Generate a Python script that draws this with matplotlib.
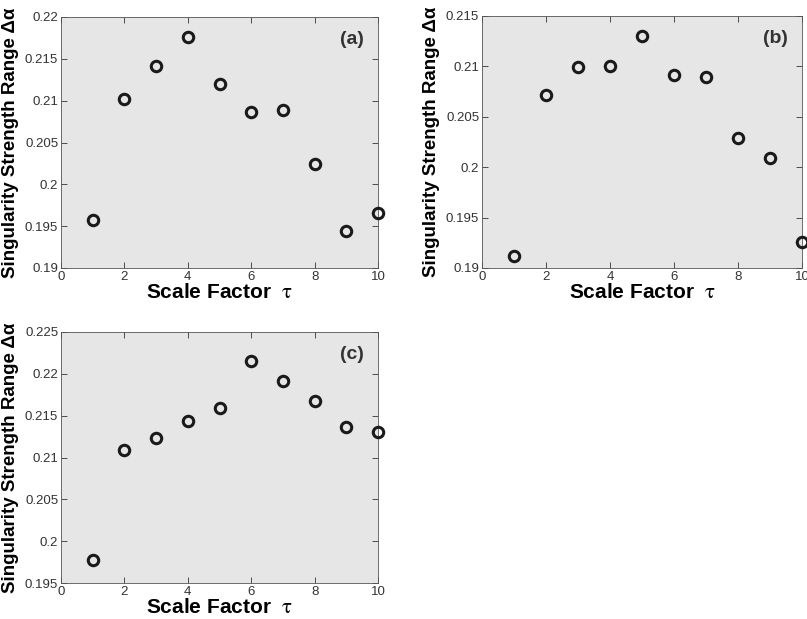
import matplotlib
matplotlib.use('Agg')
import matplotlib.pyplot as plt

# scale factor tau and singularity strength range for the three panels
tau = [1, 2, 3, 4, 5, 6, 7, 8, 9, 10]
dalpha_a = [0.1957, 0.2102, 0.2141, 0.2176, 0.2120, 0.2086, 0.2089, 0.2024, 0.1944, 0.1966]
dalpha_b = [0.1912, 0.2072, 0.2099, 0.2100, 0.2130, 0.2091, 0.2089, 0.2029, 0.2009, 0.1926]
dalpha_c = [0.1978, 0.2109, 0.2123, 0.2144, 0.2159, 0.2215, 0.2191, 0.2168, 0.2137, 0.2130]

ylims_a = (0.19, 0.22)
ylims_b = (0.19, 0.215)
ylims_c = (0.195, 0.225)
yticks_a = [0.19, 0.195, 0.2, 0.205, 0.21, 0.215, 0.22]
yticks_b = [0.19, 0.195, 0.2, 0.205, 0.21, 0.215]
yticks_c = [0.195, 0.2, 0.205, 0.21, 0.215, 0.22, 0.225]

plt.rcParams['font.family'] = ['Liberation Sans', 'DejaVu Sans']
plt.rcParams['mathtext.fontset'] = 'stix'

W, H = 807, 619
fig = plt.figure(figsize=(W / 100, H / 100), dpi=100)


def panel(left, top, right, bottom, y, ylims, yticks, tag):
    ax = fig.add_axes([left / W, 1 - bottom / H, (right - left) / W, (bottom - top) / H])
    ax.set_facecolor('#e6e6e6')
    ax.plot(tau, y, 'o', ms=7.5, mfc='none', mec='#1a1a1a', mew=2.2, clip_on=False, zorder=3)
    ax.set_xlim(0, 10)
    ax.set_ylim(*ylims)
    ax.set_xticks([0, 2, 4, 6, 8, 10])
    ax.set_yticks(yticks)
    ax.set_yticklabels(['%g' % v for v in yticks])
    ax.tick_params(direction='in', top=True, right=True, labelsize=9.5, length=4,
                   width=0.6, colors='#333333', pad=2)
    for s in ax.spines.values():
        s.set_linewidth(0.6)
        s.set_color('#555555')
    ax.set_xlabel(r'Scale Factor  $\mathrm{\tau}$', fontsize=15, fontweight='bold', labelpad=0)
    ax.set_ylabel('Singularity Strength Range Δα', fontsize=13.5,
                  fontweight='bold', labelpad=4)
    ax.text(0.955, 0.91, tag, transform=ax.transAxes, ha='right', va='center',
            fontsize=14, fontweight='bold', color='#333333')
    return ax


panel(61, 17, 378, 268, dalpha_a, ylims_a, yticks_a, '(a)')
panel(482, 16, 802, 268, dalpha_b, ylims_b, yticks_b, '(b)')
panel(61, 332, 378, 583, dalpha_c, ylims_c, yticks_c, '(c)')

fig.savefig('out.png', dpi=100, facecolor='white')
